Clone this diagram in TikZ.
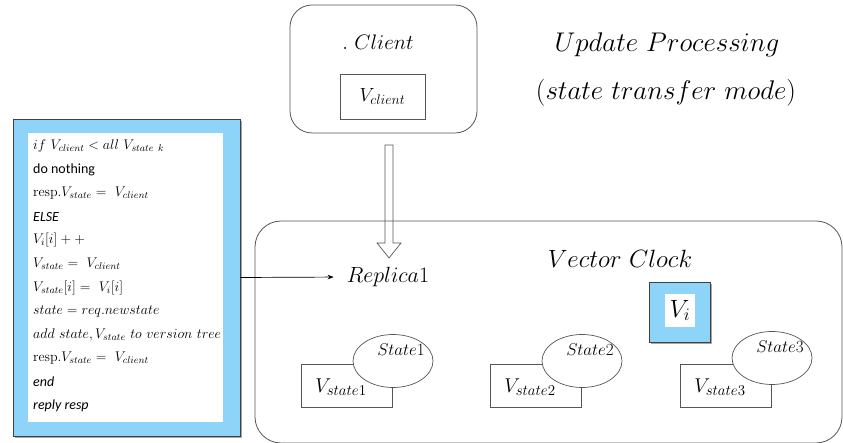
\documentclass[tikz,border=0pt]{standalone}
\usepackage{fix-cm}
\usepackage{fontspec}
\newfontfamily\calibri{Carlito}
\usetikzlibrary{arrows.meta,calc,shapes.geometric}
\definecolor{paleblue}{RGB}{141,212,248}
\definecolor{edgegray}{RGB}{85,85,85}
\DeclareMathSizes{19}{19}{14}{10}
\DeclareMathSizes{20}{20}{15}{11}

\begin{document}
\begin{tikzpicture}[x=1pt,y=-1pt,
    roundbox/.style ={rectangle, draw=edgegray, rounded corners=22pt, line width=0.8pt, inner sep=0pt},
    plainbox/.style ={rectangle, draw=edgegray, fill=white, line width=0.7pt, inner sep=0pt},
    bluebox/.style ={rectangle, draw=black!75, fill=paleblue, line width=0.9pt, inner sep=0pt},
    shadowbox/.style ={rectangle, fill=black!35, inner sep=0pt},
    statenode/.style ={ellipse, draw=edgegray, fill=white, line width=0.7pt, minimum width=80pt, minimum height=53pt, inner sep=0pt},
    codeline/.style ={anchor=west, inner sep=0pt, font=\fontsize{14}{16}\selectfont},
    bigtitle/.style ={font=\fontsize{27}{32}\selectfont},
    textlabel/.style ={inner sep=0pt, font=\fontsize{19}{22}\selectfont}]
   \useasboundingbox (0,0) rectangle (843,443);

   % client side
   \node[roundbox, minimum width=187pt, minimum height=128pt] (client) at (383.5,69) {};
   \node[textlabel, font=\fontsize{21}{24}\selectfont] (clientname) at (378,42) {$.\ Client$};
   \node[plainbox, minimum width=85pt, minimum height=45pt, textlabel] (vclient) at (382.5,96.5) {$V_{client}$};

   \node[bigtitle] (title1) at (667,45) {$Update\ Processing$};
   \node[bigtitle] (title2) at (666,93) {$(state\ transfer\ mode)$};

   % replica side
   \node[roundbox, rounded corners=26pt, minimum width=587pt, minimum height=222pt] (replicabox) at (548.5,332) {};
   \node[textlabel, font=\fontsize{25}{29}\selectfont] (vclock) at (620,259) {$Vector\ Clock$};
   \node[textlabel, font=\fontsize{22}{26}\selectfont] (replica) at (388,277) {$Replica1$};

   \coordinate (arrtop) at (389,145);
   \coordinate (arrtip) at (389,258);
   \draw[edgegray, line width=0.7pt] ($(arrtop)+(-4,0)$) -- ($(arrtip)+(-4,-15)$) -- ($(arrtip)+(-12,-15)$)
      -- (arrtip) -- ($(arrtip)+(12,-15)$) -- ($(arrtip)+(4,-15)$) -- ($(arrtop)+(4,0)$) -- cycle;

   \node[shadowbox, minimum width=61pt, minimum height=60pt] (vishadow) at (681,314) {};
   \node[bluebox, minimum width=61pt, minimum height=60pt] (viouter) at (679.5,312) {};
   \node[rectangle, fill=white, minimum width=30pt, minimum height=33pt, inner sep=0pt, font=\fontsize{25}{28}\selectfont] (vi) at (680,310.5) {$V_i$};

   \node[plainbox, minimum width=91pt, minimum height=43pt] (vs1) at (346.5,385.5) {};
   \node[statenode] (s1) at (393,361) {};
   \node[textlabel, font=\fontsize{20}{24}\selectfont] (v1) at (341,387) {$V_{state1}$};
   \node[textlabel, font=\fontsize{17}{20}\selectfont] (t1) at (401,350) {$State1$};

   \node[plainbox, minimum width=91pt, minimum height=43pt] (vs2) at (535.5,385.5) {};
   \node[statenode] (s2) at (582,361) {};
   \node[textlabel, font=\fontsize{20}{24}\selectfont] (v2) at (530,387) {$V_{state2}$};
   \node[textlabel, font=\fontsize{17}{20}\selectfont] (t2) at (590,350) {$State2$};

   \node[plainbox, minimum width=91pt, minimum height=43pt] (vs3) at (725.5,385.5) {};
   \node[statenode] (s3) at (772,358) {};
   \node[textlabel, font=\fontsize{20}{24}\selectfont] (v3) at (720,387) {$V_{state3}$};
   \node[textlabel, font=\fontsize{17}{20}\selectfont] (t3) at (780,347) {$State3$};

   % pseudo code
   \node[shadowbox, minimum width=227pt, minimum height=317pt] (codeshadow) at (128.5,279.5) {};
   \node[bluebox, minimum width=227pt, minimum height=317pt] (code) at (126.5,277.5) {};
   \node[rectangle, fill=white, minimum width=195pt, minimum height=289pt] (codepage) at (125.5,277.5) {};
   \node[codeline] (c1) at (33,146.0) {$if\ V_{client} < all\ V_{state\ k}$};
   \node[codeline] (c2) at (33,169.6) {\calibri do nothing};
   \node[codeline] (c3) at (33,193.2) {$\mathrm{resp.}V_{state} =\ V_{client}$};
   \node[codeline] (c4) at (33,216.8) {\calibri\itshape ELSE};
   \node[codeline] (c5) at (33,240.4) {$V_i[i] + +$};
   \node[codeline] (c6) at (33,264.0) {$V_{state} =\ V_{client}$};
   \node[codeline] (c7) at (33,287.6) {$V_{state}[i] =\ V_i[i]$};
   \node[codeline] (c8) at (33,311.2) {$state = req.newstate$};
   \node[codeline] (c9) at (33,334.8) {$add\ state, V_{state}\ to\ version\ tree$};
   \node[codeline] (c10) at (33,358.4) {$\mathrm{resp.}V_{state} =\ V_{client}$};
   \node[codeline] (c11) at (33,382.0) {\calibri\itshape end};
   \node[codeline] (c12) at (33,405.6) {\calibri\itshape reply resp};

   \draw[line width=0.7pt, shorten >=13pt, -{Stealth[length=6pt,width=4.5pt]}] (code.east) to (replica.west);
 \end{tikzpicture}
\end{document}
